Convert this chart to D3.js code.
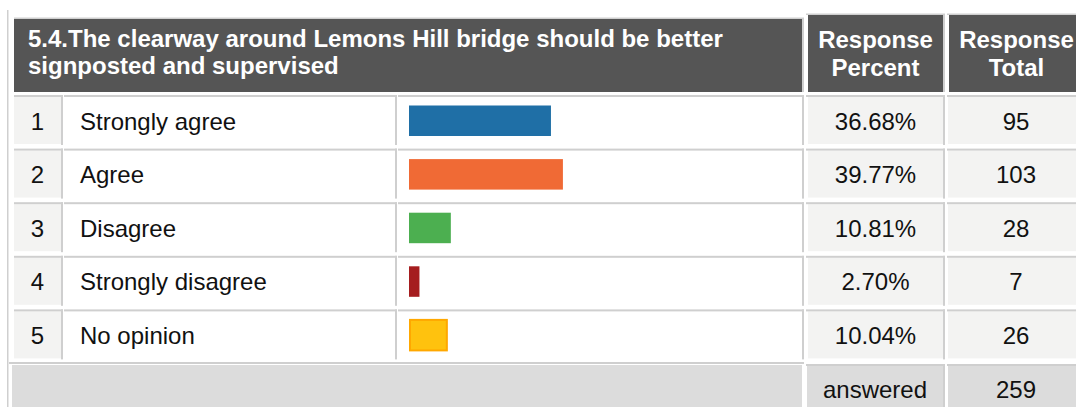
<!DOCTYPE html>
<html>
<head>
<meta charset="utf-8">
<script src="https://cdn.jsdelivr.net/npm/d3@7"></script>
<style>
  html, body { margin: 0; padding: 0; background: #fff; overflow: hidden; }
  svg { display: block; font-family: "Liberation Sans", Arial, sans-serif; }
</style>
</head>
<body>
<svg id="chart" width="1076" height="407"></svg>
<script>
// ---- data ----
const titleLines = ["5.4.The clearway around Lemons Hill bridge should be better", "signposted and supervised"];
const percentHeader = ["Response", "Percent"];
const totalHeader = ["Response", "Total"];
const rowNumbers = [1, 2, 3, 4, 5];
const categories = ["Strongly agree", "Agree", "Disagree", "Strongly disagree", "No opinion"];
const percents = [36.68, 39.77, 10.81, 2.70, 10.04];
const totals = [95, 103, 28, 7, 26];
const answeredLabel = "answered";
const answeredTotal = 259;

// ---- styles ----
const palette = ["#1f6fa6", "#f06a35", "#4caf50", "#a51d1f", "#ffc20e"];
const strokes = [null, null, null, null, "#ffa800"];
const headerBg = "#555555";
const border = "#cfcfcf";
const cellBg = "#f3f3f2";
const footBg = "#dcdcdc";

const svg = d3.select("#chart");
const rows = categories.map((c, i) => ({ n: rowNumbers[i], cat: c, pct: percents[i], tot: totals[i], i }));

// layout
const cols = {
  num: [14, 63], label: [64, 397], bar: [398, 804], pct: [806, 945], tot: [947, 1086]
};
const y = d3.scaleBand().domain(categories).range([95, 363]).paddingInner(0).paddingOuter(0);
const x = d3.scaleLinear().domain([0, 100]).range([409, 796]);
const color = d3.scaleOrdinal(categories, palette);
const rowH = 50;

// outer left line
svg.append("rect").attr("x", 7).attr("y", 10).attr("width", 1.5).attr("height", 400).attr("fill", border);

// ---- header ----
svg.append("rect").attr("x", 14).attr("y", 17.5).attr("width", 790).attr("height", 1.5).attr("fill", border);
svg.append("rect").attr("x", 14).attr("y", 19).attr("width", 788).attr("height", 73).attr("fill", headerBg);
svg.append("rect").attr("x", 802).attr("y", 19).attr("width", 2).attr("height", 73).attr("fill", border);
const titleT = svg.append("text").attr("fill", "#fff").attr("font-weight", "bold").attr("font-size", 24);
titleLines.forEach((l, i) => titleT.append("tspan").attr("x", 28).attr("y", 47.3 + i * 26.7).text(l));

[[cols.pct, percentHeader], [cols.tot, totalHeader]].forEach(([c, lines]) => {
  svg.append("rect").attr("x", c[0]).attr("y", 13.5).attr("width", c[1] - c[0]).attr("height", 1.5).attr("fill", border);
  svg.append("rect").attr("x", c[0] + 2).attr("y", 15).attr("width", c[1] - c[0] - 4).attr("height", 77).attr("fill", headerBg);
  svg.append("rect").attr("x", c[1] - 2).attr("y", 15).attr("width", 2).attr("height", 77).attr("fill", border);
  const t = svg.append("text").attr("fill", "#fff").attr("font-weight", "bold").attr("font-size", 24).attr("text-anchor", "middle");
  lines.forEach((l, i) => t.append("tspan").attr("x", (c[0] + 2 + c[1] - 2) / 2).attr("y", 48.3 + i * 27.7).text(l));
});

// ---- rows ----
const g = svg.selectAll("g.row").data(rows).join("g").attr("class", "row")
  .attr("transform", d => `translate(0,${y(d.cat)})`);

const cellSpecs = [
  { key: "num", bg: cellBg, x0: cols.num[0], x1: cols.num[1], bgx: 0 },
  { key: "label", bg: "#fff", x0: cols.label[0], x1: cols.label[1], bgx: 0 },
  { key: "bar", bg: "#fff", x0: cols.bar[0], x1: cols.bar[1], bgx: 0 },
  { key: "pct", bg: cellBg, x0: cols.pct[0], x1: cols.pct[1], bgx: 2 },
  { key: "tot", bg: cellBg, x0: cols.tot[0], x1: cols.tot[1], bgx: 1 }
];
cellSpecs.forEach(c => {
  g.append("rect").attr("x", c.x0 + c.bgx).attr("y", 2).attr("width", c.x1 - c.x0 - 2 - c.bgx).attr("height", rowH - 3).attr("fill", c.bg);
  g.append("rect").attr("x", c.x0).attr("y", 0).attr("width", c.x1 - c.x0).attr("height", 2).attr("fill", border);
  g.append("rect").attr("x", c.x1 - 2).attr("y", 0).attr("width", 2).attr("height", rowH).attr("fill", border);
});

const textBase = 34.7;
g.append("text").attr("x", (cols.num[0] + cols.num[1] - 2) / 2).attr("y", textBase)
  .attr("text-anchor", "middle").attr("font-size", 24).attr("fill", "#111").text(d => d.n);
g.append("text").attr("x", 80).attr("y", textBase)
  .attr("font-size", 24).attr("fill", "#111").text(d => d.cat);
g.append("rect")
  .attr("x", d => x(0) + (strokes[d.i] ? 1 : 0))
  .attr("y", 10.5 + (d => 0)())
  .attr("width", d => x(d.pct) - x(0) - (strokes[d.i] ? 2 : 0))
  .attr("height", 30.5)
  .attr("fill", d => color(d.cat))
  .attr("stroke", d => strokes[d.i] || "none")
  .attr("stroke-width", 2);
g.append("text").attr("x", (cols.pct[0] + 2 + cols.pct[1] - 2) / 2).attr("y", textBase)
  .attr("text-anchor", "middle").attr("font-size", 24).attr("fill", "#111").text(d => d.pct.toFixed(2) + "%");
g.append("text").attr("x", (cols.tot[0] + 1 + cols.tot[1] - 2) / 2).attr("y", textBase)
  .attr("text-anchor", "middle").attr("font-size", 24).attr("fill", "#111").text(d => d.tot);

// ---- footer ----
const fy = y.range()[1];
svg.append("rect").attr("x", 9).attr("y", fy - 1).attr("width", 795).attr("height", 2).attr("fill", border);
svg.append("rect").attr("x", 12).attr("y", fy + 2).attr("width", 790).attr("height", 60).attr("fill", footBg);
[[cols.pct, answeredLabel], [cols.tot, answeredTotal]].forEach(([c, label]) => {
  svg.append("rect").attr("x", c[0] + 1).attr("y", fy + 2).attr("width", c[1] - c[0] - 3).attr("height", 60).attr("fill", footBg);
  svg.append("rect").attr("x", c[0]).attr("y", fy + 1).attr("width", c[1] - c[0]).attr("height", 2).attr("fill", border);
  svg.append("rect").attr("x", c[1] - 2).attr("y", fy + 1).attr("width", 2).attr("height", 60).attr("fill", border);
  svg.append("text").attr("x", (c[0] + c[1]) / 2 - 0.5).attr("y", fy + 34.5)
    .attr("text-anchor", "middle").attr("font-size", 24).attr("fill", "#111").text(label);
});
</script>
</body>
</html>
